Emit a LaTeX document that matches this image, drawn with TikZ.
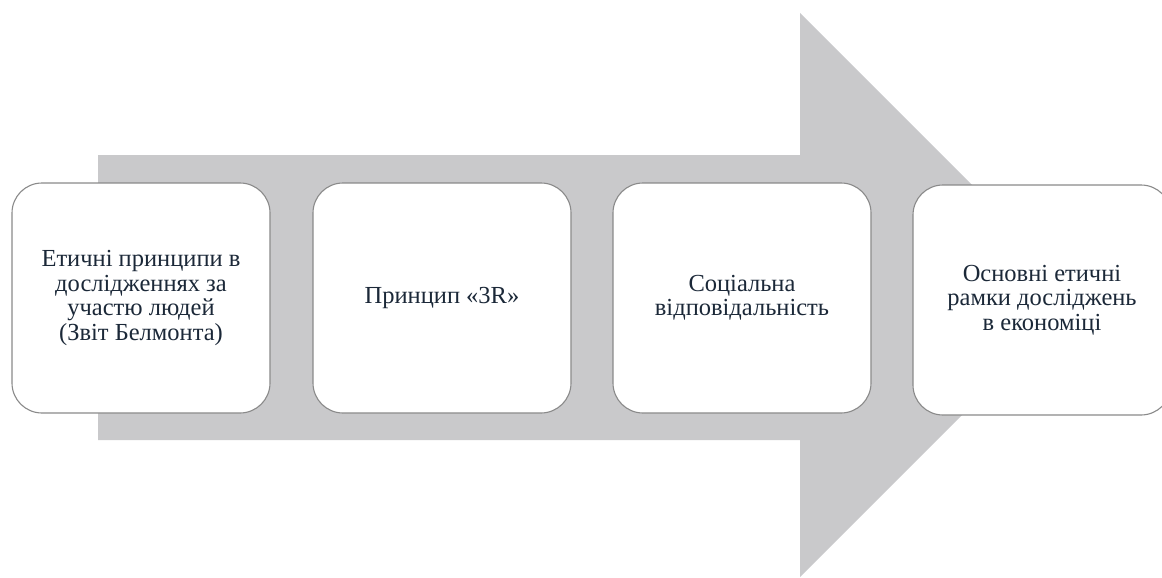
\documentclass[tikz,border=0pt]{standalone}
\usepackage{fontspec}
\setmainfont{Liberation Serif}
\definecolor{arrowgray}{HTML}{C9C9CB}
\definecolor{textnavy}{HTML}{1B2838}
\definecolor{boxedge}{HTML}{8A8A8A}
\begin{document}
\begin{tikzpicture}[x=1pt,y=-1pt,
  stagebox/.style={draw=boxedge, line width=1.1pt, fill=white, rounded corners=30pt,
    minimum width=258pt, minimum height=230pt, align=center, text=textnavy,
    font=\fontsize{24.5pt}{24.5pt}\selectfont, inner sep=0pt}]
\useasboundingbox (0,0) rectangle (1162,578);
\clip (0,0) rectangle (1162,578);
\fill[arrowgray] (98,155) -- (800,155) -- (800,13) -- (1082,295) -- (800,577) -- (800,440) -- (98,440) -- cycle;
\node[stagebox] (b1) at (141,298) {Етичні принципи в\\дослідженнях за\\участю людей\\(Звіт Белмонта)};
\node[stagebox] (b2) at (442,298) {Принцип «3R»};
\node[stagebox] (b3) at (742,298) {Соціальна\\відповідальність};
\node[stagebox] (b4) at (1042,300) {Основні етичні\\рамки досліджень\\в економіці};
\end{tikzpicture}
\end{document}
